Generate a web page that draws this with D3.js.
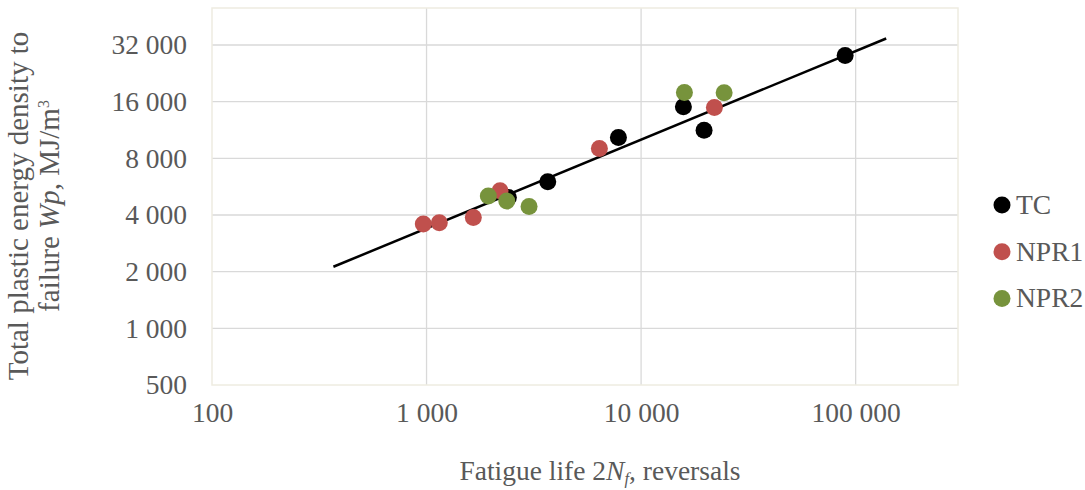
<!DOCTYPE html>
<html lang="en">
  <head>
    <meta charset="UTF-8" />
    <style>
      body { margin: 0; background: #fff; }
      svg { font-family: "Liberation Serif", "Times New Roman", serif; }
    </style>
    <title>Plastic energy vs fatigue life</title>
  </head>
  <body>
    <script src="https://cdn.jsdelivr.net/npm/d3@7/dist/d3.min.js"></script>
    <script>
      // values: [2Nf, Wp]
      const tcData = [[2406, 4960], [3673, 6003], [7840, 10330], [15748, 15020], [19660, 11290], [89340, 28140]];
      const npr1Data = [[966, 3579], [1147, 3636], [1652, 3884], [2201, 5377], [6392, 9030], [21960, 14900]];
      const npr2Data = [[1941, 5040], [2365, 4741], [3005, 4443], [15920, 17900], [24380, 17820]];
      // trend line end points
      const trendData = [[368, 2123], [138800, 34650]];

      const seriesNames = ["TC", "NPR1", "NPR2"];
      const seriesColors = ["#000000", "#C0504D", "#77933C"];
      const xTicks = [100, 1000, 10000, 100000];
      const yTicks = [500, 1000, 2000, 4000, 8000, 16000, 32000];

      const width = 1085;
      const height = 490;
      const plot = { left: 212, right: 958, top: 8, bottom: 385 };
      const fontSize = 27.5;
      const titleSize = 29;
      const textColor = "#595959";

      const xScale = d3.scaleLog().domain([100, 300000]).range([plot.left, plot.right]);
      const yScale = d3.scaleLog().base(2).domain([500, 50300]).range([plot.bottom, plot.top]);
      const fmt = v => d3.format(",")(v).replace(/,/g, " ");

      const svg = d3.select("body").append("svg").attr("width", width).attr("height", height);

      // gridlines
      svg.append("g")
        .selectAll("line")
        .data(xTicks.slice(1))
        .join("line")
        .attr("x1", d => xScale(d)).attr("x2", d => xScale(d))
        .attr("y1", plot.top).attr("y2", plot.bottom)
        .attr("stroke", "#D9D9D9").attr("stroke-width", 1.3);
      svg.append("g")
        .selectAll("line")
        .data(yTicks.slice(1))
        .join("line")
        .attr("x1", plot.left).attr("x2", plot.right)
        .attr("y1", d => yScale(d)).attr("y2", d => yScale(d))
        .attr("stroke", "#D9D9D9").attr("stroke-width", 1.3);

      // plot border
      svg.append("rect")
        .attr("x", plot.left).attr("y", plot.top)
        .attr("width", plot.right - plot.left).attr("height", plot.bottom - plot.top)
        .attr("fill", "none").attr("stroke", "#EEECE1").attr("stroke-width", 1.5);

      // axes
      const xAxis = d3.axisBottom(xScale).tickValues(xTicks).tickFormat(fmt).tickSize(0).tickPadding(17);
      const yAxis = d3.axisLeft(yScale).tickValues(yTicks).tickFormat(fmt).tickSize(0).tickPadding(25);
      svg.append("g").attr("transform", "translate(0," + plot.bottom + ")").call(xAxis)
        .call(g => g.select(".domain").remove());
      svg.append("g").attr("transform", "translate(" + plot.left + ",0)").call(yAxis)
        .call(g => g.select(".domain").remove());
      svg.selectAll(".tick text")
        .attr("font-family", "Liberation Serif")
        .attr("font-size", fontSize)
        .attr("fill", textColor);

      // trend line
      svg.append("path")
        .datum(trendData)
        .attr("d", d3.line().x(d => xScale(d[0])).y(d => yScale(d[1])))
        .attr("stroke", "#000").attr("stroke-width", 2.5).attr("fill", "none");

      // markers (green drawn last like the reference)
      [tcData, npr1Data, npr2Data].forEach((data, i) => {
        svg.append("g")
          .selectAll("circle")
          .data(data)
          .join("circle")
          .attr("cx", d => xScale(d[0]))
          .attr("cy", d => yScale(d[1]))
          .attr("r", 8.5)
          .attr("fill", seriesColors[i]);
      });

      // legend
      const legend = svg.append("g").attr("transform", "translate(1002,205)");
      seriesNames.forEach((name, i) => {
        const g = legend.append("g").attr("transform", "translate(0," + i * 46.7 + ")");
        g.append("circle").attr("r", 8.5).attr("fill", seriesColors[i]);
        g.append("text").attr("x", 14).attr("y", 9)
          .attr("font-size", fontSize).attr("fill", textColor).text(name);
      });

      // x axis title
      const xt = svg.append("text")
        .attr("x", (plot.left + plot.right) / 2 + 15).attr("y", 480)
        .attr("text-anchor", "middle")
        .attr("font-size", fontSize).attr("fill", textColor);
      xt.append("tspan").text("Fatigue life 2");
      xt.append("tspan").attr("font-style", "italic").text("N");
      xt.append("tspan").attr("font-style", "italic").attr("font-size", fontSize * 0.6).attr("dy", 4).text("f");
      xt.append("tspan").attr("dy", -4).text(", reversals");

      // y axis title (two lines)
      const yt = svg.append("text")
        .attr("transform", "translate(28,206) rotate(-90)")
        .attr("text-anchor", "middle")
        .attr("font-size", titleSize).attr("fill", textColor);
      yt.append("tspan").text("Total plastic energy density to");
      const line2 = svg.append("text")
        .attr("transform", "translate(59,206) rotate(-90)")
        .attr("text-anchor", "middle")
        .attr("font-size", titleSize).attr("fill", textColor);
      line2.append("tspan").text("failure ");
      line2.append("tspan").attr("font-style", "italic").text("Wp");
      line2.append("tspan").text(", MJ/m");
      line2.append("tspan").attr("font-size", titleSize * 0.55).attr("dy", -10).text("3");
    </script>
  </body>
</html>
